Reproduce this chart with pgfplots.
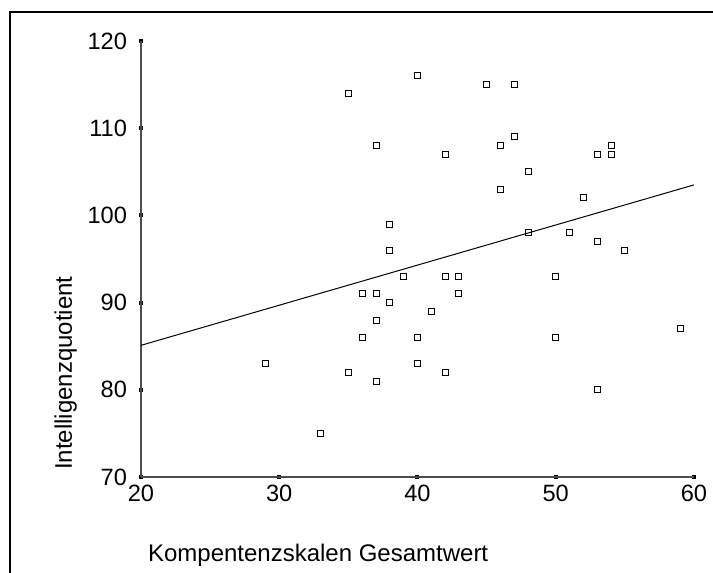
\documentclass[border=0pt]{standalone}
\usepackage{fontspec}
\setmainfont{Liberation Sans}
\usepackage{pgfplots}
\pgfplotsset{compat=1.18}
\begin{document}
\begin{tikzpicture}[x=0.5pt,y=0.5pt]
\useasboundingbox (0,0) rectangle (713,573);
\draw[line width=1.2pt] (10,0) -- (10,561) -- (713,561);
\begin{axis}[
  at={(70.5pt,48pt)}, anchor=south west,
  scale only axis, width=276.5pt, height=218pt,
  xmin=20, xmax=60, ymin=70, ymax=120,
  axis lines=left,
  axis line style={gray!60!black, line width=0.8pt, -},
  xtick={20,30,40,50,60}, ytick={70,80,90,100,110,120},
  tick style={black, line width=2pt},
  major tick length=2pt,
  tick align=center,
  /pgf/number format/assume math mode=true,
  ticklabel style={font=\fontsize{11.8}{14}\selectfont},
  yticklabel style={xshift=-2.5pt},
  xticklabel style={yshift=0.5pt},
  xlabel={Kompentenzskalen Gesamtwert},
  ylabel={Intelligenzquotient},
  label style={font=\fontsize{12}{14}\selectfont},
  xlabel style={at={(axis description cs:0,-0.193)}, anchor=base west},
  ylabel style={at={(axis description cs:-0.125,0)}, anchor=base west},
  clip=true,
]
\addplot[only marks, mark=square, mark size=1.5pt, mark options={black, line width=0.5pt}] coordinates {
(35,114) (40,116) (45,115) (47,115) (37,108) (42,107) (46,108) (47,109)
(53,107) (54,108) (54,107) (46,103) (48,105) (52,102) (38,99) (38,96)
(48,98) (51,98) (53,97) (55,96) (39,93) (42,93) (43,93) (50,93)
(36,91) (37,91) (43,91) (38,90) (41,89) (37,88) (36,86) (40,86)
(50,86) (59,87) (29,83) (40,83) (35,82) (42,82) (37,81) (53,80) (33,75)
};
\addplot[black, line width=0.5pt] coordinates {(20,85.1) (60,103.5)};
\end{axis}
\end{tikzpicture}
\end{document}
